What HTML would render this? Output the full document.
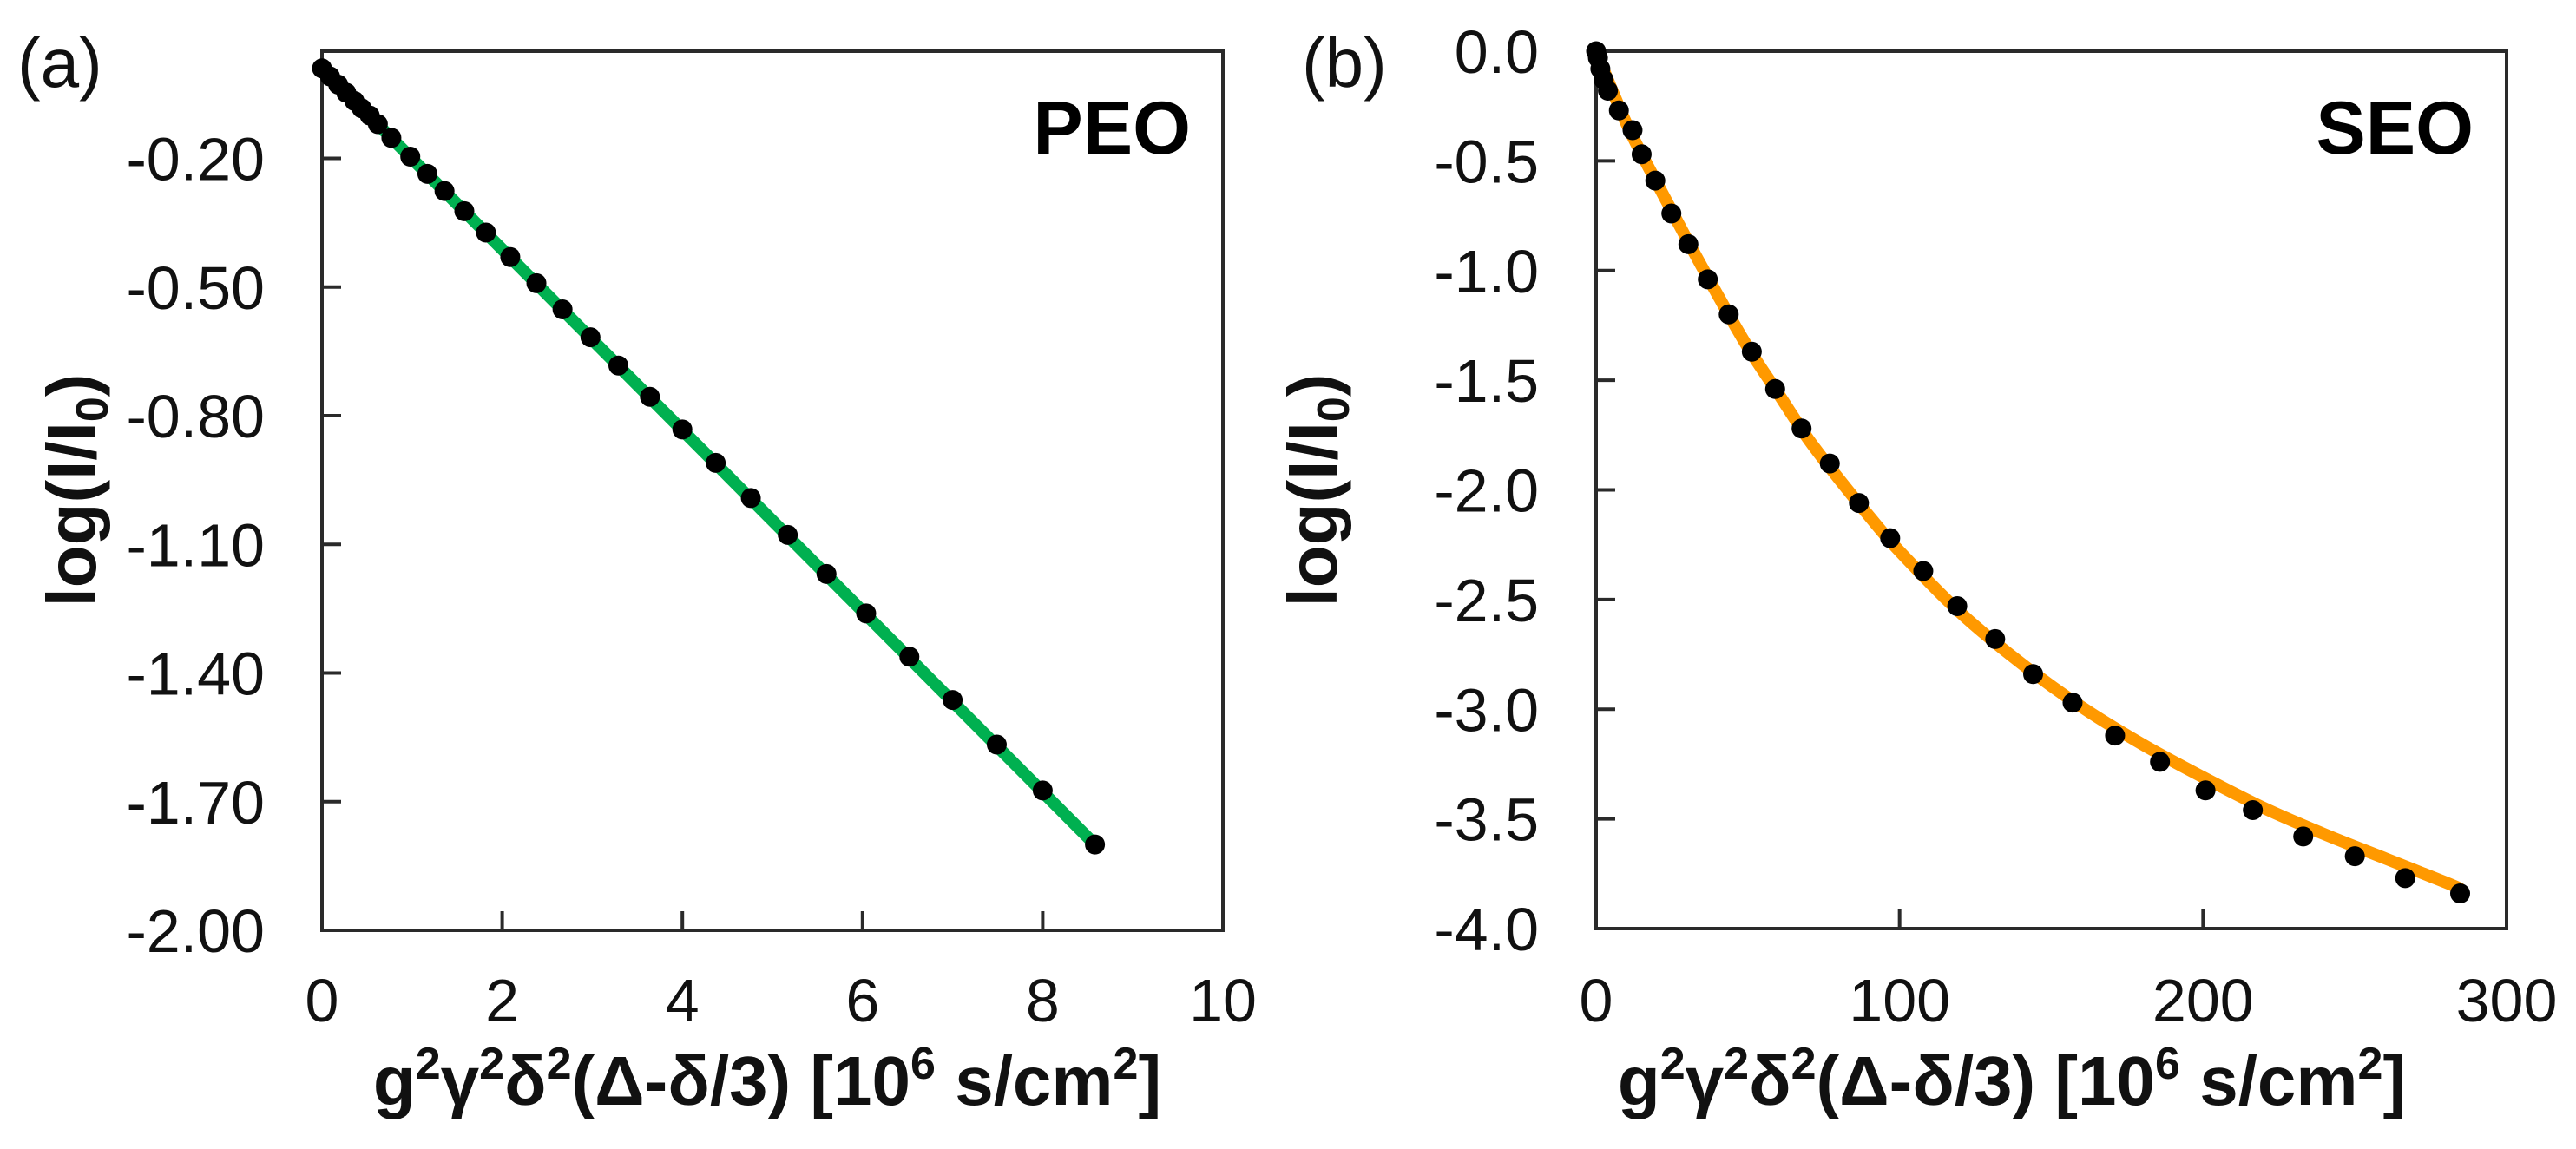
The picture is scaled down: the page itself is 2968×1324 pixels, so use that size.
<!DOCTYPE html>
<html><head><meta charset="utf-8"><style>
html,body{margin:0;padding:0;background:#fff;}
svg{display:block;font-family:"Liberation Sans",Arial,sans-serif;}
</style></head><body>
<svg id="fig" width="2968" height="1324" viewBox="0 0 2968 1324" xmlns="http://www.w3.org/2000/svg">
<g id="pa"></g>
<g id="pb"></g>
</svg>
<script>
// Panel (a) PEO data
const peoX = [0,0.09,0.18,0.27,0.36,0.44,0.53,0.62,0.77,0.98,1.17,1.36,1.58,1.82,2.09,2.38,2.67,2.98,3.29,3.64,4.0,4.37,4.76,5.17,5.6,6.04,6.52,7.0,7.49,8.0,8.58];
const peoY = [0.01,-0.009,-0.028,-0.047,-0.066,-0.083,-0.10,-0.12,-0.152,-0.196,-0.236,-0.276,-0.323,-0.373,-0.43,-0.491,-0.552,-0.617,-0.683,-0.756,-0.832,-0.91,-0.992,-1.078,-1.169,-1.261,-1.362,-1.463,-1.567,-1.674,-1.80];
const peoFitX = [0,8.58];
const peoFitY = [0.01,-1.80];
const peoXTicks = [0,2,4,6,8,10];
const peoYTicks = [-0.20,-0.50,-0.80,-1.10,-1.40,-1.70,-2.00];
const peoYTickLabels = ["-0.20","-0.50","-0.80","-1.10","-1.40","-1.70","-2.00"];
// Panel (b) SEO data
const seoX = [0,0.6,1.4,2.5,3.9,7.5,12,15,19.5,24.8,30.4,36.8,43.7,51.3,59,67.7,77,86.6,96.9,107.8,119,131.5,144,157,171,185.8,200.8,216.4,233,250,266.6,284.7];
const seoY = [0,-0.03,-0.08,-0.13,-0.18,-0.27,-0.36,-0.47,-0.59,-0.74,-0.88,-1.04,-1.2,-1.37,-1.54,-1.72,-1.88,-2.06,-2.22,-2.37,-2.53,-2.68,-2.84,-2.97,-3.12,-3.24,-3.37,-3.46,-3.58,-3.67,-3.77,-3.84];
const seoFitX = [0,10,20,30,40,50,60,70,80,90,100,120,140,160,180,200,220,240,260,280,285];
const seoFitY = [0,-0.33,-0.6,-0.86,-1.11,-1.35,-1.56,-1.77,-1.95,-2.12,-2.28,-2.56,-2.79,-2.99,-3.16,-3.31,-3.45,-3.57,-3.68,-3.79,-3.82];
const seoXTicks = [0,100,200,300];
const seoYTicks = [0,-0.5,-1,-1.5,-2,-2.5,-3,-3.5,-4];
const seoYTickLabels = ["0.0","-0.5","-1.0","-1.5","-2.0","-2.5","-3.0","-3.5","-4.0"];

const NS = "http://www.w3.org/2000/svg";
function mk(parent, tag, attrs, text){
  const e = document.createElementNS(NS, tag);
  for (const k in attrs) e.setAttribute(k, attrs[k]);
  if (text !== undefined) e.textContent = text;
  parent.appendChild(e);
  return e;
}
function smoothPath(pts){
  let d = "M"+pts[0][0]+","+pts[0][1];
  for (let i=0;i<pts.length-1;i++){
    const p0=pts[Math.max(0,i-1)], p1=pts[i], p2=pts[i+1], p3=pts[Math.min(pts.length-1,i+2)];
    const c1x=p1[0]+(p2[0]-p0[0])/6, c1y=p1[1]+(p2[1]-p0[1])/6;
    const c2x=p2[0]-(p3[0]-p1[0])/6, c2y=p2[1]-(p3[1]-p1[1])/6;
    d += " C"+c1x+","+c1y+" "+c2x+","+c2y+" "+p2[0]+","+p2[1];
  }
  return d;
}
function panel(g, cfg){
  const {L,R,T,B,xmin,xmax,ymin,ymax} = cfg;
  const sx = v => L + (v-xmin)/(xmax-xmin)*(R-L);
  const sy = v => B - (v-ymin)/(ymax-ymin)*(B-T);
  let t = mk(g,"text",{x:cfg.letterX,y:100,"font-size":80,fill:"#111"},cfg.letter);
  
  
  let f = mk(g,"rect",{x:L,y:T,width:R-L,height:B-T,fill:"none",stroke:"#2a2a2a","stroke-width":4});
  
  
  cfg.yTicks.forEach((v,i)=>{
    const y = sy(v);
    if (y>T+2 && y<B-2){
      const tk = mk(g,"line",{x1:L,x2:L+22,y1:y,y2:y,stroke:"#2a2a2a","stroke-width":4});
      
      
    }
    const lb = mk(g,"text",{x:cfg.yLabelRight,y:y+25,"font-size":70,"text-anchor":"end",fill:"#111"},cfg.yTickLabels[i]);
    
    
  });
  cfg.xTicks.forEach(v=>{
    const x = sx(v);
    if (x>L+2 && x<R-2){
      const tk = mk(g,"line",{x1:x,x2:x,y1:B,y2:B-22,stroke:"#2a2a2a","stroke-width":4});
      
      
    }
    const lb = mk(g,"text",{x:x,y:1177,"font-size":70,"text-anchor":"middle",fill:"#111"},String(v));
    
    
  });
  const pts = cfg.fitX.map((v,i)=>[sx(v),sy(cfg.fitY[i])]);
  const ln = mk(g,"path",{d:smoothPath(pts),fill:"none",stroke:cfg.color,"stroke-width":14,"stroke-linecap":"butt"});
  
  
  cfg.dataX.forEach((v,i)=>{
    const c = mk(g,"circle",{cx:sx(v),cy:sy(cfg.dataY[i]),r:11.5,fill:"#000"});
    
    
  });
  const s = mk(g,"text",{x:cfg.sampleRight,y:177,"font-size":86,"font-weight":"bold","text-anchor":"end",fill:"#000"},cfg.sample);
  
  
  const xt = mk(g,"text",{x:cfg.xTitleX,y:1273,"font-size":80,"font-weight":"bold","text-anchor":"middle",fill:"#111"});
  xt.innerHTML = 'g<tspan font-size="52" dy="-30">2</tspan><tspan dy="30">γ</tspan><tspan font-size="52" dy="-30">2</tspan><tspan dy="30">δ</tspan><tspan font-size="52" dy="-30">2</tspan><tspan dy="30">(Δ-δ/3) [10</tspan><tspan font-size="52" dy="-30">6</tspan><tspan dy="30"> s/cm</tspan><tspan font-size="52" dy="-30">2</tspan><tspan dy="30">]</tspan>';
  
  
  const yt = mk(g,"text",{x:0,y:0,"font-size":80,"font-weight":"bold","text-anchor":"middle",fill:"#111",transform:"translate("+(cfg.yTitleX)+",565) rotate(-90)"});
  yt.innerHTML = 'log(I/I<tspan font-size="52" dy="14">0</tspan><tspan dy="-14">)</tspan>';
  
  
}
panel(document.getElementById('pa'),{
  L:371,R:1409,T:59,B:1072,xmin:0,xmax:10,ymin:-2.0,ymax:0.05,
  letter:"(a)",letterX:20,yLabelRight:305,
  yTicks:peoYTicks,yTickLabels:peoYTickLabels,xTicks:peoXTicks,
  fitX:peoFitX,fitY:peoFitY,dataX:peoX,dataY:peoY,color:"#00b050",
  sample:"PEO",sampleRight:1372,xTitleX:884,yTitleX:110
});
panel(document.getElementById('pb'),{
  L:1839,R:2888,T:59,B:1070,xmin:0,xmax:300,ymin:-4.0,ymax:0,
  letter:"(b)",letterX:1500,yLabelRight:1773,
  yTicks:seoYTicks,yTickLabels:seoYTickLabels,xTicks:seoXTicks,
  fitX:seoFitX,fitY:seoFitY,dataX:seoX,dataY:seoY,color:"#ff9900",
  sample:"SEO",sampleRight:2850,xTitleX:2318,yTitleX:1540
});
</script>
</body></html>
